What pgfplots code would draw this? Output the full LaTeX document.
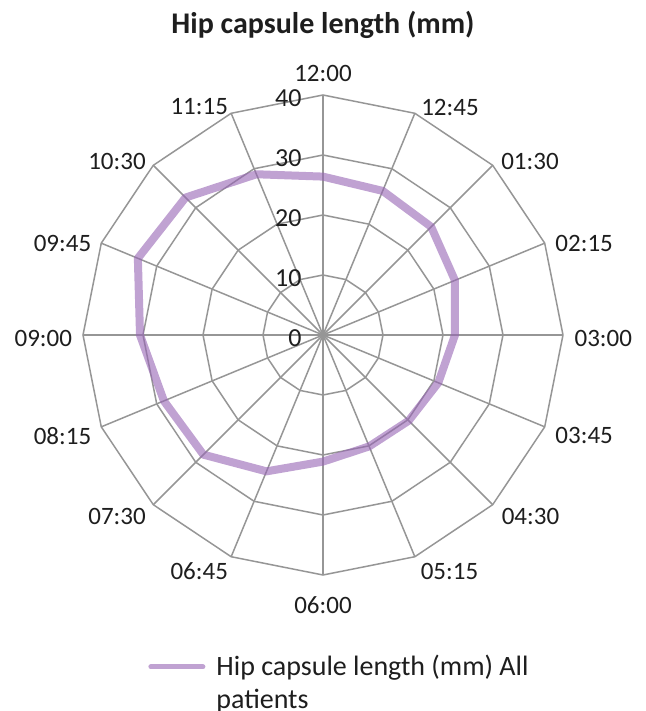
\documentclass[border=0pt]{standalone}
\usepackage{pgfplots}
\pgfplotsset{compat=1.18}
\usepgfplotslibrary{polar}
\usepackage{fontspec}
\setmainfont{Carlito}
\definecolor{gridc}{RGB}{150,150,150}
\definecolor{capc}{RGB}{150,100,180}
\definecolor{txtc}{RGB}{30,30,30}
\begin{document}
\begin{tikzpicture}
\path[use as bounding box] (-161.5pt,-188pt) rectangle (161.5pt,167.5pt);
\begin{polaraxis}[
  at={(0,0)}, anchor=origin, clip=false,
  scale only axis, width=240pt, height=240pt,
  xmin=0, xmax=360, ymin=0, ymax=40,
  xtick=\empty, ytick=\empty,
  xmajorgrids=false, ymajorgrids=false,
  axis line style={draw=none},
  major tick length=0pt,
  title={Hip capsule length (mm)},
  title style={font=\bfseries\fontsize{15}{18}\selectfont, text=txtc, at={(0.5,1)}, anchor=center, yshift=20.5pt},
  legend style={at={(0.5,0)}, anchor=north west, xshift=-87.5pt, yshift=-39pt, draw=none, inner sep=0pt,
    font=\fontsize{14}{16.5}\selectfont, text=txtc, cells={anchor=base west},
    nodes={inner ysep=0pt, inner xsep=5.5pt}},
  legend image code/.code={\draw[#1, line width=2.5pt] (0pt,4.2pt) -- (26pt,4.2pt);},
]
\pgfplotsinvokeforeach{0,22.5,45,67.5,90,112.5,135,157.5,180,202.5,225,247.5,270,292.5,315,337.5}{
\addplot[gridc, line width=0.75pt, forget plot] coordinates {(#1,0) (#1,40)};
}
\pgfplotsinvokeforeach{10,20,30,40}{
\addplot[gridc, line width=0.75pt, forget plot] coordinates {
(0,#1) (22.5,#1) (45,#1) (67.5,#1) (90,#1) (112.5,#1) (135,#1) (157.5,#1)
(180,#1) (202.5,#1) (225,#1) (247.5,#1) (270,#1) (292.5,#1) (315,#1) (337.5,#1) (360,#1)};
}
\addplot[capc, opacity=0.6, line width=4pt, line join=round, line cap=round] coordinates {
(90,26.4) (67.5,26.0) (45,25.5) (22.5,23.8) (0,22.0) (337.5,20.8) (315,20.2) (292.5,20.1)
(270,21.1) (247.5,24.6) (225,28.2) (202.5,28.7) (180,30.5) (157.5,33.4) (135,32.4) (112.5,29.0) (90,26.4)};
\addlegendentry{\vtop{\offinterlineskip\hbox{\vrule height 11pt depth 5.5pt width 0pt Hip capsule length (mm) All}\hbox{\vrule height 11pt depth 0pt width 0pt patients}}}
\pgfplotsinvokeforeach{0,10,20,30,40}{
\node[anchor=east, inner sep=0pt, xshift=-10.5pt, yshift=-1.5pt, text=txtc, font=\fontsize{13}{15}\selectfont] at (axis cs:90,#1) {#1};
}
\begin{scope}[every node/.style={inner sep=0pt, anchor=center, text=txtc, font=\fontsize{12.5}{15}\selectfont}]
\node at (axis cs:90,43.58) {12:00};
\node at (axis cs:60.83,43.42) {12:45};
\node at (axis cs:39.94,45.0) {01:30};
\node at (axis cs:19.35,46.14) {02:15};
\node at (axis cs:359.33,46.72) {03:00};
\node at (axis cs:338.86,46.67) {03:45};
\node at (axis cs:318.87,45.91) {04:30};
\node at (axis cs:298.16,44.67) {05:15};
\node at (axis cs:270,45.0) {06:00};
\node at (axis cs:242.35,44.46) {06:45};
\node at (axis cs:221.42,45.78) {07:30};
\node at (axis cs:201.19,46.57) {08:15};
\node at (axis cs:180.68,46.62) {09:00};
\node at (axis cs:160.61,46.03) {09:45};
\node at (axis cs:139.93,44.87) {10:30};
\node at (axis cs:118.47,43.28) {11:15};
\end{scope}
\end{polaraxis}
\end{tikzpicture}
\end{document}
